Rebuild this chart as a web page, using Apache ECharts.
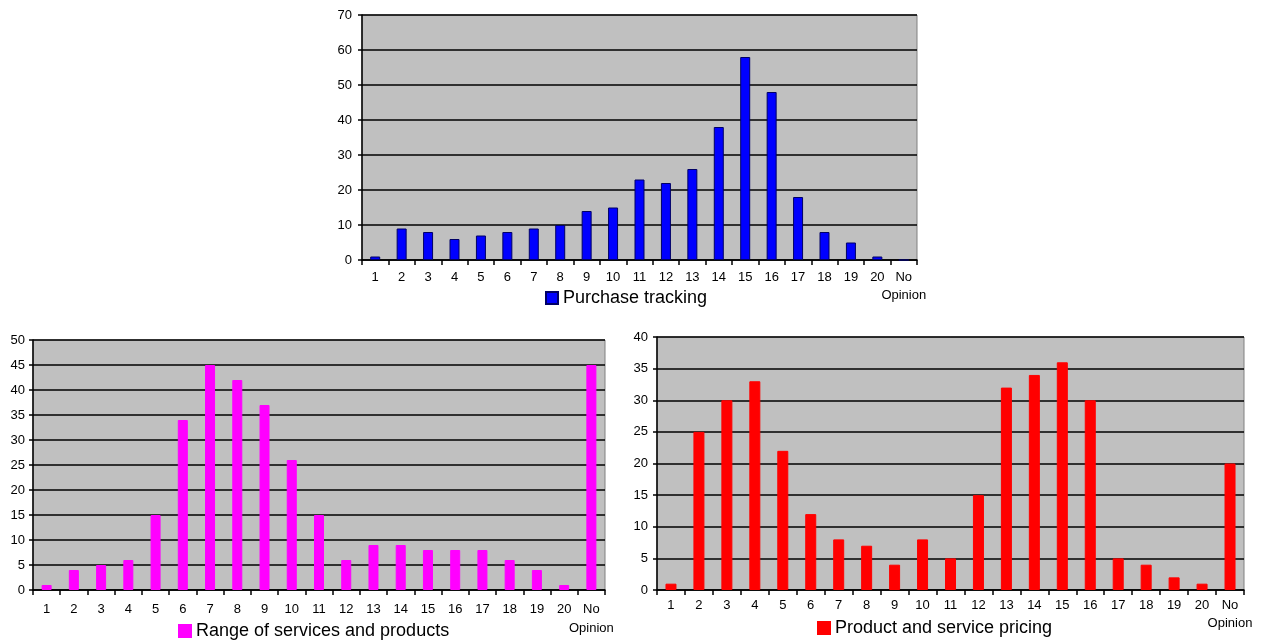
<!DOCTYPE html>
<html>
<head>
<meta charset="utf-8">
<script src="https://cdn.jsdelivr.net/npm/echarts@6/dist/echarts.min.js"></script>
<style>
html,body{margin:0;padding:0;background:#fff;}
#c{width:1266px;height:643px;}
</style>
</head>
<body>
<div id="c"></div>
<script>
const categories = ['1','2','3','4','5','6','7','8','9','10','11','12','13','14','15','16','17','18','19','20','No\nOpinion'];
const purchaseTracking = [1,9,8,6,7,8,9,10,14,15,23,22,26,38,58,48,18,8,5,1,0];
const rangeServices = [1,4,5,6,15,34,45,42,37,26,15,6,9,9,8,8,8,6,4,1,45];
const pricing = [1,25,30,33,22,12,8,7,4,8,5,15,32,34,36,30,5,4,2,1,20];
const seriesNames = ['Purchase tracking','Range of services and products','Product and service pricing'];
const yMax = [70, 50, 40];
const yStep = [10, 5, 5];

const FONT = 'Liberation Sans, Arial, sans-serif';
const chart = echarts.init(document.getElementById('c'));

const grids = [
  {left:362, top:15, width:555, height:245},
  {left:33, top:340, width:572, height:250},
  {left:657, top:337, width:587, height:253}
];
const xMargins = [8, 10, 6];
const xLineHeights = [18, 19, 18];
const yMargins = [10, 8, 9];
const colors = ['#0000ff', '#ff00ff', '#ff0000'];
const borders = ['#000066', '#ff00ff', '#ff0000'];
const barWidths = [10, 10, 11];
const legendPos = [{left:545, top:289}, {left:178, top:622}, {left:817, top:619}];
const dataSets = [purchaseTracking, rangeServices, pricing];

const option = {
  backgroundColor:'#ffffff',
  animation:false,
  grid: grids.map(g => Object.assign({show:true, backgroundColor:'#c0c0c0', borderColor:'#808080', borderWidth:1}, g)),
  xAxis: grids.map((g,i) => ({
    type:'category', gridIndex:i, data:categories,
    axisLine:{show:true, lineStyle:{color:'#000', width:1.5}},
    axisTick:{show:true, inside:false, length:5, alignWithLabel:false, lineStyle:{color:'#000', width:1.5}},
    axisLabel:{interval:0, margin:xMargins[i], color:'#000', fontFamily:FONT, fontSize:13, lineHeight:xLineHeights[i]},
    splitLine:{show:false}
  })),
  yAxis: grids.map((g,i) => ({
    type:'value', gridIndex:i, min:0, max:yMax[i], interval:yStep[i],
    axisLine:{show:true, lineStyle:{color:'#000', width:1.5}},
    axisTick:{show:true, inside:false, length:4, lineStyle:{color:'#000', width:1.5}},
    axisLabel:{margin:yMargins[i], color:'#000', fontFamily:FONT, fontSize:13},
    splitLine:{show:true, lineStyle:{color:'#000', width:1.5}}
  })),
  legend: grids.map((g,i) => ({
    data:[seriesNames[i]], left:legendPos[i].left, top:legendPos[i].top,
    icon:'rect', itemWidth:12, itemHeight:12, itemGap:5, padding:0,
    textStyle:{fontFamily:FONT, fontSize:18, color:'#000'}
  })),
  series: dataSets.map((d,i) => ({
    name:seriesNames[i], type:'bar', xAxisIndex:i, yAxisIndex:i, data:d,
    barWidth:barWidths[i],
    itemStyle:{color:colors[i], borderColor:borders[i], borderWidth:1}
  }))
};
chart.setOption(option);
</script>
</body>
</html>
